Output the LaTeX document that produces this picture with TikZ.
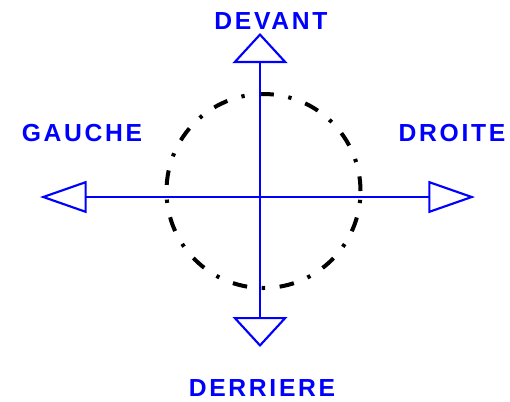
\documentclass[tikz,border=0pt]{standalone}
\usepackage{fontspec}
\setmainfont{Liberation Sans}
\usepackage{tikz}
\usepackage{xcolor}
\usetikzlibrary{arrows.meta,positioning}
\definecolor{cB}{HTML}{0000FF}
\tikzset{
  axis/.style={cB,line width=1.6pt},
  harrow/.style={{Triangle[open,length=35pt 0,width=24pt 0]}-{Triangle[open,length=35pt 0,width=24pt 0]},axis},
  varrow/.style={{Triangle[open,length=22.5pt 0,width=41pt 0]}-{Triangle[open,length=22.5pt 0,width=41pt 0]},axis},
  dir/.style={cB,inner sep=0pt,font=\fontsize{18.5pt}{20pt}\bfseries\addfontfeature{LetterSpace=11}},
  track/.style={black,line width=3pt,dash pattern=on 11pt off 11pt on 2.5pt off 11pt},
}

\begin{document}
\begin{tikzpicture}[x=0.75pt,y=-0.75pt]
  \useasboundingbox (0,0) rectangle (510,401);
  % tips of the four arrows
  \coordinate (n) at (260,33);
  \coordinate (s) at (260,347);
  \coordinate (w) at (40,197);
  \coordinate (e) at (475,197);
  \coordinate (ctr) at (263.5,191);
  % dash-dot circle
  \draw[track] (ctr) circle[radius=72.75pt];
  % cross
  \draw[harrow] (w) -- (e);
  \draw[varrow] (s) -- (n);
  % labels
  \node[dir] (devant) at (271,21) {DEVANT};
  \node[dir] (gauche) at (82,133) {GAUCHE};
  \node[dir] (droite) at (452,133) {DROITE};
  \node[dir] (derriere) at (262,388) {DERRIERE};
\end{tikzpicture}
\end{document}
